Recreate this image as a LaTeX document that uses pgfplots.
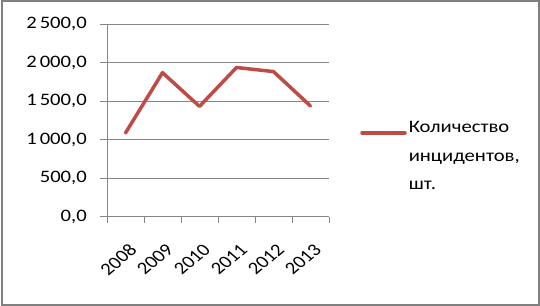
\documentclass[border=0pt]{standalone}
\usepackage{fontspec}
\setmainfont{Carlito}[FakeStretch=1.18]
\newfontfamily\plainfont{Carlito}
\usepackage{pgfplots}
\pgfplotsset{compat=1.18}
\definecolor{exred}{HTML}{BE4B48}
\definecolor{gridgray}{HTML}{868686}
\definecolor{framegray}{HTML}{808080}
\begin{document}
\begin{tikzpicture}
\useasboundingbox (0,0) rectangle (540bp,306bp);
\draw[framegray, line width=2bp] (2bp,0.8bp) rectangle (539bp,305bp);
\begin{axis}[
  at={(107bp,89.5bp)}, anchor=south west,
  scale only axis, width=222bp, height=192.5bp,
  xmin=-0.5, xmax=5.5, ymin=0, ymax=2500,
  axis lines*=left,
  axis line style={gridgray, line width=0.9bp},
  xtick={0,1,2,3,4,5},
  xticklabels={2008,2009,2010,2011,2012,2013},
  minor xtick={-0.5,0.5,1.5,2.5,3.5,4.5,5.5},
  ytick={0,500,1000,1500,2000,2500},
  yticklabels={{0,0},{500,0},{1\,000,0},{1\,500,0},{2\,000,0},{2\,500,0}},
  tick align=outside,
  major tick length=7bp, minor tick length=6bp,
  major x tick style={draw=none},
  every tick/.style={gridgray, line width=0.9bp},
  minor x tick style={gridgray, line width=0.9bp},
  major y tick style={gridgray, line width=0.9bp},
  ymajorgrids,
  major grid style={gridgray, line width=0.9bp},
  tick label style={font=\fontsize{17.5bp}{21bp}\selectfont, text=black},
  yticklabel style={anchor=east, inner sep=0pt, xshift=-13bp},
  xticklabel style={font=\plainfont\fontsize{17.5bp}{21bp}\selectfont,
    xshift=2.5bp, yshift=-19bp, xscale=1.18, rotate=45, anchor=north east, inner sep=0pt},
  legend style={at={(axis description cs:1.14,0.46)}, anchor=west, draw=none, fill=none,
    inner sep=0pt, font=\fontsize{17.5bp}{28.5bp}\selectfont,
    cells={anchor=base west, align=left, text width=125bp}},
  legend image code/.code={\draw[#1] (0bp,0bp) -- (43bp,0bp);},
]
\addplot[exred, line width=3.5bp, line join=round, line cap=round, mark=none]
  coordinates {(0,1085) (1,1868) (2,1430) (3,1935) (4,1882) (5,1435)};
\addlegendentry{Количество\\инцидентов,\\шт.}
\end{axis}
\end{tikzpicture}
\end{document}
